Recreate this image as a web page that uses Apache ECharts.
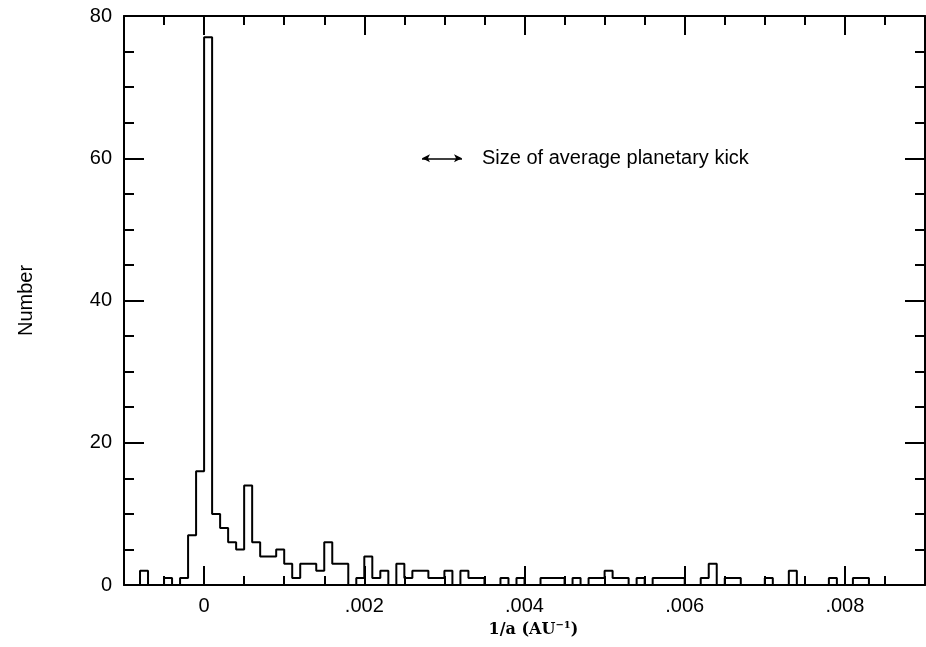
<!DOCTYPE html>
<html>
<head>
<meta charset="utf-8">
<title>1/a distribution</title>
<script src="https://cdn.jsdelivr.net/npm/echarts@6/dist/echarts.min.js"></script>
<style>
  html, body { margin: 0; padding: 0; background: #fff; }
  #chart { width: 926px; height: 647px; }
</style>
</head>
<body>
<div id="chart"></div>
<script>
  // histogram bins: 0.0001 AU^-1 wide, first bin starts at -0.001
  const binStart = -0.001
  const binWidth = 0.0001
  const counts = [
    0, 0, 2, 0, 0, 1, 0, 1, 7, 16,
    77, 10, 8, 6, 5, 14, 6, 4, 4, 5,
    3, 1, 3, 3, 2, 6, 3, 3, 0, 1,
    4, 1, 2, 0, 3, 1, 2, 2, 1, 1,
    2, 0, 2, 1, 1, 0, 0, 1, 0, 1,
    0, 0, 1, 1, 1, 0, 1, 0, 1, 1,
    2, 1, 1, 0, 1, 0, 1, 1, 1, 1,
    0, 0, 1, 3, 0, 1, 1, 0, 0, 0,
    1, 0, 0, 2, 0, 0, 0, 0, 1, 0,
    0, 1, 1, 0, 0, 0, 0, 0, 0, 0
  ]
  const xMajorTicks = [0, 0.002, 0.004, 0.006, 0.008]
  const yTickLabels = [0, 20, 40, 60, 80]
  // size of average planetary kick (arrow in data units)
  const kickRange = [0.00272, 0.00322]
  const kickLevel = 60

  const xMin = -0.001
  const xMax = 0.009
  const ink = '#000'
  const sansFont = '"Liberation Sans", Arial, sans-serif'

  // step outline: left edge of each bin, plus closing right edge
  const stepData = counts.map((c, i) => [+(binStart + i * binWidth).toFixed(5), c])
  stepData.push([+(binStart + counts.length * binWidth).toFixed(5), counts[counts.length - 1]])

  const fmtX = v => (v === 0 ? '0' : String(v).replace(/^0/, ''))

  const chart = echarts.init(document.getElementById('chart'), null, { renderer: 'canvas' })

  const tickLine = { color: ink, width: 2 }

  const option = {
    animation: false,
    backgroundColor: '#fff',
    grid: { left: 124, right: 1, top: 16, bottom: 62, containLabel: false },
    xAxis: [
      {
        type: 'value', position: 'bottom', min: xMin, max: xMax,
        axisLine: { show: true, onZero: false, lineStyle: { color: ink, width: 2 } },
        axisTick: { show: true, inside: true, length: 19, lineStyle: tickLine, customValues: xMajorTicks },
        axisLabel: {
          customValues: xMajorTicks, formatter: fmtX, margin: 11,
          fontSize: 20, color: ink, fontFamily: sansFont
        },
        splitLine: { show: false },
        name: '{n|1/a (AU}{s|−1}{n|)}',
        nameLocation: 'middle', nameGap: 31,
        nameTextStyle: {
          padding: [0, 0, 0, 18],
          rich: {
            n: { fontFamily: '"DejaVu Serif", serif', fontWeight: 'bold', fontSize: 16, color: ink },
            s: { fontFamily: '"DejaVu Serif", serif', fontWeight: 'bold', fontSize: 10, color: ink, verticalAlign: 'top', padding: [0, 0, 8, 0] }
          }
        }
      },
      {
        type: 'value', position: 'bottom', min: xMin, max: xMax, interval: 0.0005,
        axisLine: { show: false, onZero: false },
        axisTick: { show: true, inside: true, length: 9, lineStyle: tickLine },
        axisLabel: { show: false },
        splitLine: { show: false }
      },
      {
        type: 'value', position: 'top', min: xMin, max: xMax,
        axisLine: { show: true, onZero: false, lineStyle: { color: ink, width: 2 } },
        axisTick: { show: true, inside: true, length: 19, lineStyle: tickLine, customValues: xMajorTicks },
        axisLabel: { show: false },
        splitLine: { show: false }
      },
      {
        type: 'value', position: 'top', min: xMin, max: xMax, interval: 0.0005,
        axisLine: { show: false, onZero: false },
        axisTick: { show: true, inside: true, length: 9, lineStyle: tickLine },
        axisLabel: { show: false },
        splitLine: { show: false }
      }
    ],
    yAxis: [
      {
        type: 'value', position: 'left', min: 0, max: 80, interval: 20,
        axisLine: { show: true, onZero: false, lineStyle: { color: ink, width: 2 } },
        axisTick: { show: true, inside: true, length: 20, lineStyle: tickLine, customValues: yTickLabels },
        minorTick: { show: true, splitNumber: 4, length: 10, lineStyle: tickLine },
        axisLabel: { customValues: yTickLabels, margin: 12, fontSize: 20, color: ink, fontFamily: sansFont },
        splitLine: { show: false },
        name: 'Number', nameLocation: 'middle', nameGap: 88,
        nameTextStyle: { fontSize: 20, color: ink, fontFamily: sansFont }
      },
      {
        type: 'value', position: 'right', min: 0, max: 80, interval: 20,
        axisLine: { show: true, onZero: false, lineStyle: { color: ink, width: 2 } },
        axisTick: { show: true, inside: true, length: 20, lineStyle: tickLine },
        minorTick: { show: true, splitNumber: 4, length: 10, lineStyle: tickLine },
        axisLabel: { show: false },
        splitLine: { show: false }
      }
    ],
    series: [
      {
        type: 'line',
        xAxisIndex: 0,
        yAxisIndex: 0,
        step: 'end',
        data: stepData,
        symbol: 'none',
        lineStyle: { color: ink, width: 2 },
        clip: true,
        markLine: {
          silent: true,
          symbol: ['arrow', 'arrow'],
          symbolSize: [6, 8],
          lineStyle: { color: ink, width: 1.5, type: 'solid' },
          label: {
            show: true, position: 'end', distance: 20,
            formatter: 'Size of average planetary kick',
            fontSize: 20, color: ink, fontFamily: sansFont
          },
          data: [[
            { coord: [kickRange[0], kickLevel] },
            { coord: [kickRange[1], kickLevel] }
          ]]
        }
      }
    ]
  }

  chart.setOption(option)
</script>
</body>
</html>
